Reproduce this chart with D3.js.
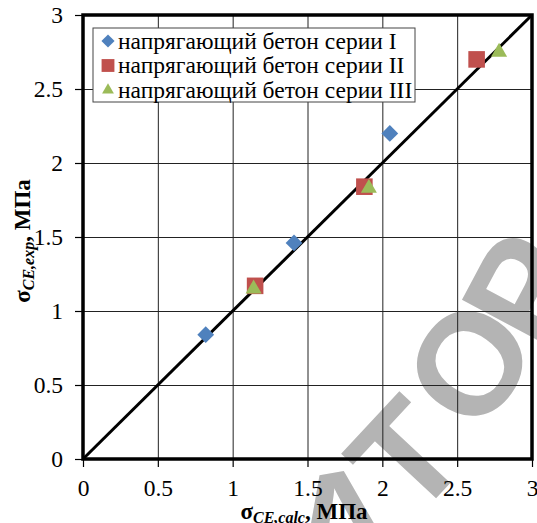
<!DOCTYPE html>
<html>
<head>
<meta charset="utf-8">
<script src="https://cdn.jsdelivr.net/npm/d3@7"></script>
<style>
  body { margin: 0; background: #fff; }
  svg { display: block; }
</style>
</head>
<body>
<div id="chart"></div>
<script>
// series values: [calc, exp]
const seriesNames = ["напрягающий бетон серии I", "напрягающий бетон серии II", "напрягающий бетон серии III"];
const seriesI = [[0.82, 0.84], [1.41, 1.46], [2.05, 2.20]];
const seriesII = [[1.15, 1.17], [1.88, 1.84], [2.63, 2.70]];
const seriesIII = [[1.14, 1.15], [1.91, 1.83], [2.78, 2.75]];
const ticks = [0, 0.5, 1, 1.5, 2, 2.5, 3];
const tickLabels = ["0", "0.5", "1", "1.5", "2", "2.5", "3"];
const lineOfEquality = [[0, 0], [3, 3]];

const colors = ["#4F81BD", "#C0504D", "#9BBB59"];
const serif = "\"Liberation Serif\"";

const W = 537, H = 523;
const m = { left: 83, right: 5, top: 15, bottom: 64 };
const w = W - m.left - m.right, h = H - m.top - m.bottom;

const svg = d3.select("#chart").append("svg")
  .attr("width", W).attr("height", H);

// watermark letters, laid on a curve, behind everything
const wm = [
  { ch: "А", x: 340, y: 520, r: -10 },
  { ch: "Т", x: 405, y: 455, r: -47 },
  { ch: "О", x: 468, y: 362, r: -55 },
  { ch: "Р", x: 522, y: 288, r: -62 }
];
svg.append("g").selectAll("text").data(wm).join("text")
  .attr("transform", d => `translate(${d.x},${d.y}) rotate(${d.r})`)
  .attr("text-anchor", "middle").attr("dy", "0.36em")
  .style("font-family", "\"Liberation Sans\"").style("font-size", "145px")
  .style("font-weight", "bold")
  .attr("fill", "#b4b4b4")
  .text(d => d.ch);

const g = svg.append("g").attr("transform", `translate(${m.left},${m.top})`);

const x = d3.scaleLinear().domain([0, 3]).range([0, w]);
const y = d3.scaleLinear().domain([0, 3]).range([h, 0]);

// grid
g.append("g").attr("transform", `translate(0,${h})`)
  .call(d3.axisBottom(x).tickValues(ticks).tickSize(-h).tickFormat(""))
  .call(a => a.select(".domain").remove())
  .call(a => a.selectAll("line").attr("stroke", "#222").attr("stroke-width", 1));
g.append("g")
  .call(d3.axisLeft(y).tickValues(ticks).tickSize(-w).tickFormat(""))
  .call(a => a.select(".domain").remove())
  .call(a => a.selectAll("line").attr("stroke", "#222").attr("stroke-width", 1));

// outer ticks + labels
const xAxis = g.append("g").attr("transform", `translate(0,${h})`)
  .call(d3.axisBottom(x).tickValues(ticks).tickSize(8).tickPadding(12)
    .tickFormat((d, i) => tickLabels[i]));
const yAxis = g.append("g")
  .call(d3.axisLeft(y).tickValues(ticks).tickSize(8).tickPadding(12)
    .tickFormat((d, i) => tickLabels[i]));
[xAxis, yAxis].forEach(a => {
  a.attr("font-family", null).attr("font-size", null);
  a.select(".domain").remove();
  a.selectAll("line").attr("stroke", "#000").attr("stroke-width", 1.2);
  a.selectAll("text").attr("fill", "#000")
    .style("font-family", serif).style("font-size", "23.5px");
});

// plot frame
g.append("rect").attr("x", 0).attr("y", 0).attr("width", w).attr("height", h)
  .attr("fill", "none").attr("stroke", "#000").attr("stroke-width", 3.5);

// y = x line
g.append("path").datum(lineOfEquality)
  .attr("d", d3.line().x(d => x(d[0])).y(d => y(d[1])))
  .attr("stroke", "#000").attr("stroke-width", 3).attr("fill", "none");

// markers
const sym = [
  d3.symbol().type(d3.symbolDiamond2).size(180),
  d3.symbol().type(d3.symbolSquare2).size(350),
  d3.symbol().type(d3.symbolTriangle2).size(185)
];
[seriesI, seriesII, seriesIII].forEach((s, k) => {
  g.append("g").selectAll("path").data(s).join("path")
    .attr("transform", d => `translate(${x(d[0])},${y(d[1])})`)
    .attr("d", sym[k]())
    .attr("fill", colors[k]);
});

// legend
const lg = svg.append("g").attr("transform", "translate(93,28)");
lg.append("rect").attr("width", 322).attr("height", 74)
  .attr("fill", "#fff").attr("stroke", "#444").attr("stroke-width", 1);
const legSym = [
  d3.symbol().type(d3.symbolDiamond2).size(110),
  d3.symbol().type(d3.symbolSquare2).size(210),
  d3.symbol().type(d3.symbolTriangle2).size(100)
];
seriesNames.forEach((name, k) => {
  const row = lg.append("g").attr("transform", `translate(0,${13 + k * 24.5})`);
  row.append("path").attr("transform", "translate(15,0)").attr("d", legSym[k]()).attr("fill", colors[k]);
  row.append("text").attr("x", 25).attr("y", 0).attr("dy", "0.33em")
    .style("font-family", serif).style("font-size", "23.5px").attr("fill", "#000").text(name);
});

// axis titles
const xt = svg.append("text").attr("x", 304).attr("y", 519)
  .attr("text-anchor", "middle").attr("font-weight", "bold")
  .style("font-family", serif).style("font-size", "23px");
xt.append("tspan").text("σ");
xt.append("tspan").attr("dy", 4).style("font-size", "16px").attr("font-style", "italic").text("CE,calc");
xt.append("tspan").attr("dy", -4).text(", МПа");

const yt = svg.append("text").attr("transform", "translate(30,241) rotate(-90)")
  .attr("text-anchor", "middle").attr("font-weight", "bold")
  .style("font-family", serif).style("font-size", "23px");
yt.append("tspan").text("σ");
yt.append("tspan").attr("dy", 4).style("font-size", "16px").attr("font-style", "italic").text("CE,exp");
yt.append("tspan").attr("dy", -4).text(", МПа");
</script>
</body>
</html>
